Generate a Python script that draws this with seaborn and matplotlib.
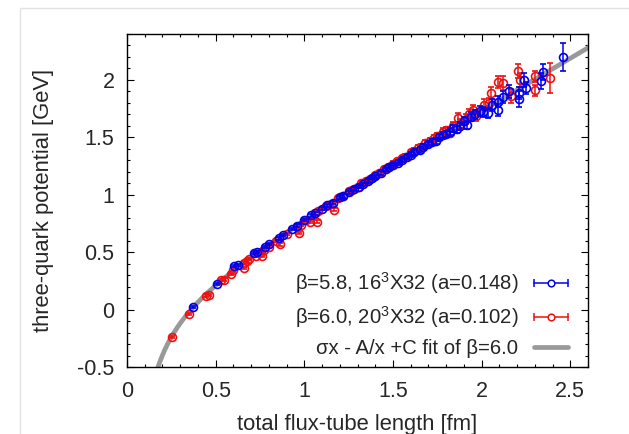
import numpy as np
import matplotlib
matplotlib.use("Agg")
import matplotlib.pyplot as plt
from matplotlib.patches import Rectangle
from matplotlib.lines import Line2D
from matplotlib.legend_handler import HandlerBase
import seaborn as sns
import pandas as pd

# ---- data ----
blue_x = [0.372, 0.507, 0.605, 0.625, 0.715, 0.735, 0.78, 0.80, 0.86, 0.88, 0.93, 0.96,
          1.00, 1.04, 1.06, 1.10, 1.13, 1.16, 1.20, 1.22, 1.25, 1.28, 1.31, 1.33, 1.36,
          1.38, 1.40, 1.43, 1.46, 1.48, 1.50, 1.53, 1.55, 1.58, 1.60, 1.62, 1.65, 1.67,
          1.70, 1.72, 1.74, 1.76, 1.78, 1.80, 1.82, 1.84, 1.86, 1.88, 1.90, 1.92, 1.94,
          1.96, 1.99, 2.01, 2.035, 2.06, 2.09, 2.09, 2.12, 2.157, 2.21, 2.21, 2.24, 2.25,
          2.336, 2.346, 2.458]
blue_y = [0.02, 0.225, 0.38, 0.39, 0.49, 0.50, 0.545, 0.57, 0.62, 0.65, 0.70, 0.73,
          0.78, 0.82, 0.84, 0.88, 0.91, 0.93, 0.98, 0.99, 1.02, 1.05, 1.07, 1.09, 1.12,
          1.15, 1.16, 1.19, 1.22, 1.24, 1.26, 1.28, 1.30, 1.33, 1.35, 1.37, 1.39, 1.42,
          1.44, 1.46, 1.47, 1.50, 1.52, 1.53, 1.55, 1.58, 1.57, 1.60, 1.64, 1.61, 1.68,
          1.70, 1.73, 1.72, 1.71, 1.78, 1.81, 1.74, 1.85, 1.90, 1.83, 1.886, 2.00, 1.93,
          1.99, 2.066, 2.20]
blue_err = [0.01, 0.01, 0.01, 0.01, 0.01, 0.01, 0.01, 0.01, 0.01, 0.01, 0.01, 0.012,
            0.012, 0.012, 0.012, 0.012, 0.013, 0.013, 0.013, 0.014, 0.014, 0.014, 0.015, 0.015, 0.015,
            0.016, 0.016, 0.017, 0.017, 0.018, 0.018, 0.019, 0.019, 0.02, 0.02, 0.021, 0.022, 0.022,
            0.023, 0.024, 0.025, 0.026, 0.027, 0.028, 0.03, 0.03, 0.032, 0.033, 0.035, 0.035, 0.037,
            0.04, 0.04, 0.04, 0.045, 0.05, 0.05, 0.05, 0.05, 0.06, 0.07, 0.05, 0.06, 0.05,
            0.07, 0.07, 0.12]

red_x = [0.256, 0.351, 0.447, 0.46, 0.53, 0.549, 0.585, 0.60, 0.658, 0.66, 0.675, 0.69,
         0.73, 0.755, 0.762, 0.775, 0.80, 0.84, 0.865, 0.90, 0.969, 0.96, 0.98, 1.01,
         1.03, 1.073, 1.06, 1.08, 1.12, 1.15, 1.167, 1.19, 1.22, 1.25, 1.27, 1.30, 1.32,
         1.35, 1.37, 1.40, 1.42, 1.45, 1.47, 1.50, 1.52, 1.55, 1.57, 1.60, 1.62, 1.64,
         1.66, 1.68, 1.71, 1.73, 1.75, 1.78, 1.80, 1.82, 1.84, 1.865, 1.88, 1.91, 1.93,
         1.95, 1.97, 2.016, 2.044, 2.053, 2.09, 2.12, 2.166, 2.205, 2.215, 2.30, 2.30, 2.383]
red_y = [-0.238, -0.038, 0.122, 0.125, 0.255, 0.262, 0.31, 0.349, 0.364, 0.41, 0.42, 0.44,
         0.47, 0.505, 0.47, 0.52, 0.545, 0.60, 0.567, 0.66, 0.665, 0.72, 0.74, 0.78,
         0.76, 0.767, 0.84, 0.86, 0.90, 0.92, 0.869, 0.97, 0.99, 1.03, 1.04, 1.07, 1.10,
         1.12, 1.14, 1.17, 1.19, 1.22, 1.24, 1.27, 1.29, 1.32, 1.33, 1.37, 1.38, 1.41,
         1.42, 1.45, 1.47, 1.49, 1.51, 1.55, 1.56, 1.54, 1.60, 1.668, 1.62, 1.66, 1.70,
         1.74, 1.69, 1.785, 1.80, 1.886, 1.98, 1.974, 1.857, 2.075, 2.00, 2.03, 1.91, 2.017]
red_err = [0.01, 0.01, 0.01, 0.01, 0.01, 0.01, 0.01, 0.01, 0.01, 0.01, 0.01, 0.01,
           0.01, 0.01, 0.01, 0.01, 0.01, 0.01, 0.01, 0.01, 0.01, 0.01, 0.01, 0.01,
           0.01, 0.012, 0.012, 0.012, 0.012, 0.013, 0.013, 0.013, 0.014, 0.014, 0.015, 0.015, 0.016,
           0.016, 0.017, 0.017, 0.018, 0.018, 0.019, 0.02, 0.02, 0.021, 0.022, 0.023, 0.024, 0.025,
           0.026, 0.027, 0.028, 0.03, 0.03, 0.032, 0.034, 0.035, 0.036, 0.04, 0.04, 0.04, 0.045,
           0.045, 0.045, 0.045, 0.045, 0.05, 0.05, 0.06, 0.06, 0.06, 0.06, 0.05, 0.05, 0.13]

# fit parameters: sigma*x - A/x + C
fit_sigma = 0.899
fit_A = 0.1126
fit_C = -0.014

labels = ["β=5.8, 16$^3$X32 (a=0.148)",
          "β=6.0, 20$^3$X32 (a=0.102)",
          "σx - A/x +C fit of β=6.0"]

BLUE = "#0000ee"
RED = "#ee1111"
GREY = "#999999"

# ---- style ----
sns.set_theme(style="ticks")
plt.rcParams["font.family"] = ["Liberation Sans", "DejaVu Sans"]
plt.rcParams["mathtext.fontset"] = "custom"
plt.rcParams["mathtext.rm"] = "Liberation Sans"
plt.rcParams["mathtext.it"] = "Liberation Sans"
plt.rcParams["mathtext.bf"] = "Liberation Sans"


class HorizErrHandler(HandlerBase):
    """gnuplot-like key sample: horizontal bar with end caps and an open circle."""
    def __init__(self, color):
        super().__init__()
        self.color = color

    def create_artists(self, legend, orig_handle, xdescent, ydescent, width, height,
                       fontsize, trans):
        y = height / 2 - ydescent
        x0, x1 = -xdescent, width - xdescent
        line = Line2D([x0, x1], [y, y], color=self.color, lw=1.1)
        caps = Line2D([x0, x1], [y, y], ls="none", marker="|", ms=6, mew=1.1,
                      color=self.color)
        circ = Line2D([(x0 + x1) / 2], [y], ls="none", marker="o", ms=4.8,
                      mfc="white", mec=self.color, mew=1.1)
        for a in (line, caps, circ):
            a.set_transform(trans)
        return [line, caps, circ]


fig = plt.figure(figsize=(6.29, 4.34), dpi=100)
fig.patch.set_facecolor("white")
ax = fig.add_axes([127/629, 1-367/434, (588-127)/629, (367-34)/434])

# fit curve
fx = np.linspace(0.15, 2.7, 400)
fit_df = pd.DataFrame({"x": fx, "y": fit_sigma*fx - fit_A/fx + fit_C})
sns.lineplot(data=fit_df, x="x", y="y", ax=ax, color=GREY, lw=3.4, legend=False, zorder=1)

ax.errorbar(red_x, red_y, yerr=red_err, fmt="o", ms=5.7, mfc="none", mec=RED,
            mew=1.2, color=RED, ecolor=RED, elinewidth=1.1, capsize=2.5, zorder=2)
ax.errorbar(blue_x, blue_y, yerr=blue_err, fmt="o", ms=5.7, mfc="none", mec=BLUE,
            mew=1.2, color=BLUE, ecolor=BLUE, elinewidth=1.1, capsize=2.5, zorder=3)

ax.set_xlim(0, 2.6)
ax.set_ylim(-0.5, 2.4)
ax.set_xticks([0, 0.5, 1, 1.5, 2, 2.5])
ax.set_xticklabels(["0", "0.5", "1", "1.5", "2", "2.5"])
ax.set_yticks([-0.5, 0, 0.5, 1, 1.5, 2])
ax.set_yticklabels(["-0.5", "0", "0.5", "1", "1.5", "2"])
ax.set_xticks(np.arange(0, 2.61, 0.1), minor=True)
ax.set_yticks(np.arange(-0.5, 2.41, 0.1), minor=True)
ax.tick_params(which="both", direction="in", top=True, right=True, color="black", width=0.8)
ax.tick_params(which="major", length=5, labelsize=15.5)
ax.tick_params(axis="x", which="major", pad=10)
ax.tick_params(axis="y", which="major", pad=9)
ax.tick_params(which="minor", length=2.5)
for s in ax.spines.values():
    s.set_color("black")
    s.set_linewidth(1.0)

ax.set_xlabel("total flux-tube length [fm]", fontsize=15.8, labelpad=9)
ax.set_ylabel("three-quark potential [GeV]", fontsize=15.8, labelpad=17)

# legend (key samples on the right, gnuplot style)
hb = Line2D([], [], color=BLUE)
hr = Line2D([], [], color=RED)
hf = Line2D([], [], color=GREY, lw=3.4)
ax.legend([hb, hr, hf], labels, loc="lower right",
          bbox_to_anchor=((568-127)/461, (367-358)/333), frameon=False,
          markerfirst=False, fontsize=14.6, labelspacing=0.42, handlelength=1.7,
          handletextpad=0.75, borderpad=0, borderaxespad=0,
          handler_map={hb: HorizErrHandler(BLUE), hr: HorizErrHandler(RED)})

fig.add_artist(Rectangle((20/629, -0.01), 1, 1-8/434+0.01, transform=fig.transFigure,
                         fill=False, edgecolor="#e2e2e2", lw=1.0))

fig.savefig("out.png", dpi=100)
